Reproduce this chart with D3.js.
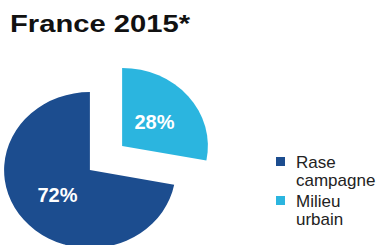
<!DOCTYPE html>
<html lang="fr">
<head>
<meta charset="UTF-8">
<title>France 2015*</title>
<script src="https://cdn.jsdelivr.net/npm/d3@7/dist/d3.min.js"></script>
<style>
    body { margin: 0; background: #fff; }
    svg { display: block; font-family: "Liberation Sans", Arial, sans-serif; }
</style>
</head>
<body>
<svg width="379" height="245"></svg>
<script>
    var categories = ["Rase campagne", "Milieu urbain"];
    var values = [72, 28];
    var legendLines = [["Rase", "campagne"], ["Milieu", "urbain"]];
    var colors = ["#1c4d8f", "#2bb5df"];

    var svg = d3.select("svg");

    svg.append("text")
        .attr("x", 10)
        .attr("y", 32)
        .attr("font-size", 24)
        .attr("font-weight", "bold")
        .attr("fill", "#111")
        .attr("textLength", 180)
        .attr("lengthAdjust", "spacingAndGlyphs")
        .text("France 2015*");

    // pie is a bit wider than tall in the picture
    var cx = 106, cy = 158, sx = 1.1, r = 78, explode = 19;

    var pie = d3.pie().sort(null)
        .startAngle(0)
        .value(function (d) { return d; });
    // start the small slice at 12 o'clock
    var arcs = pie([values[1], values[0]]);
    var order = [1, 0];

    var arc = d3.arc().innerRadius(0).outerRadius(r);
    var labelArc = d3.arc().innerRadius(r * 0.49).outerRadius(r * 0.49);

    var g = svg.append("g")
        .attr("transform", "translate(" + cx + "," + cy + ") scale(" + sx + ",1)");

    function shift(d) {
        var a = (d.startAngle + d.endAngle) / 2;
        return [Math.sin(a) * explode, -Math.cos(a) * explode];
    }

    g.selectAll("path")
        .data(arcs)
        .enter()
        .append("path")
        .attr("d", arc)
        .attr("fill", function (d, i) { return colors[order[i]]; })
        .attr("transform", function (d) {
            var s = shift(d);
            return "translate(" + s[0] + "," + s[1] + ")";
        });

    svg.selectAll(".lbl")
        .data(arcs)
        .enter()
        .append("text")
        .attr("class", "lbl")
        .attr("x", function (d) { return cx + (labelArc.centroid(d)[0] + shift(d)[0]) * sx; })
        .attr("y", function (d) { return cy + labelArc.centroid(d)[1] + shift(d)[1]; })
        .attr("dy", "0.36em")
        .attr("text-anchor", "middle")
        .attr("font-size", 20)
        .attr("font-weight", "bold")
        .attr("fill", "#fff")
        .text(function (d) { return d.value + "%"; });

    var legend = svg.selectAll(".leg")
        .data(categories)
        .enter()
        .append("g")
        .attr("class", "leg")
        .attr("transform", function (d, i) { return "translate(276," + (157 + i * 39) + ")"; });

    legend.append("rect")
        .attr("width", 9)
        .attr("height", 9)
        .attr("fill", function (d, i) { return colors[i]; });

    legend.each(function (d, i) {
        d3.select(this).selectAll("text")
            .data(legendLines[i])
            .enter()
            .append("text")
            .attr("x", 20)
            .attr("y", function (t, j) { return 11 + j * 18; })
            .attr("font-size", 17)
            .attr("fill", "#222")
            .text(function (t) { return t; });
    });
</script>
</body>
</html>
